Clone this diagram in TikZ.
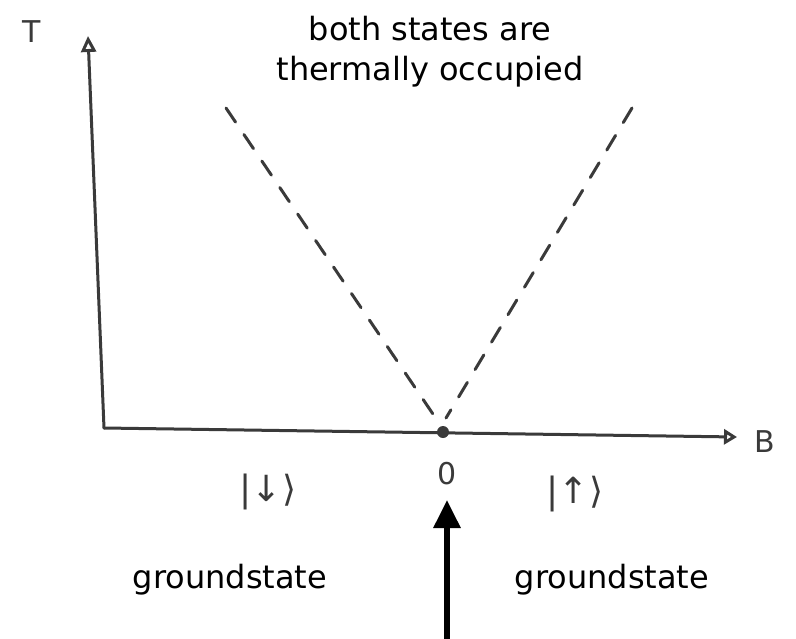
\documentclass[tikz,border=0pt]{standalone}
\usepackage{fontspec}
\setmainfont{DejaVu Sans}
\usetikzlibrary{arrows.meta}
\definecolor{pencil}{HTML}{3A3A3A}
\begin{document}
\begin{tikzpicture}[x=1pt,y=-1pt,
  sketch/.style={draw=pencil,line width=3pt,line cap=round},
  dashline/.style={sketch,dash pattern=on 17pt off 15pt},
  label/.style={font=\fontsize{32}{40}\selectfont,text=black},
  hand/.style={font=\fontsize{30}{34}\selectfont,text=pencil},
  ket/.style={font=\fontsize{36}{40}\selectfont,text=pencil},
  bigarrow/.style={draw=black,line width=6pt,-{Triangle[width=26pt,length=28pt]}}]
\useasboundingbox (0,0) rectangle (796,638);
% axes
\coordinate (O) at (443,432);
\coordinate (xa0) at (104,428);
\coordinate (xa1) at (737,437);
\coordinate (ya1) at (88,36);
\draw[sketch,-{Triangle[open,width=15pt,length=13pt]}] (xa0) -- (xa1);
\draw[sketch,-{Triangle[open,width=15pt,length=16pt]}] (xa0) -- (ya1);
\node[hand] (T) at (32,32) {T};
\node[hand] (B) at (765,442) {B};
% origin dot
\fill[pencil] (O) circle (6pt);
\node[hand] (zero) at (447,474) {0};
% dashed lines
\coordinate (dl) at (226,108);
\coordinate (dr) at (632,108);
\draw[dashline] (dl) -- (437,420);
\draw[dashline] (dr) -- (446,418);
% kets
\node[ket] (down) at (268,492) {|↓⟩};
\node[ket] (up) at (575,494) {|↑⟩};
% texts
\node[label,align=center] (top) at (430,52) {both states are\\thermally occupied};
\node[label] (gl) at (230,580) {groundstate};
\node[label] (gr) at (612,580) {groundstate};
% black arrow
\coordinate (abot) at (447,640);
\coordinate (atop) at (447,500);
\draw[bigarrow] (abot) -- (atop);
\end{tikzpicture}
\end{document}
